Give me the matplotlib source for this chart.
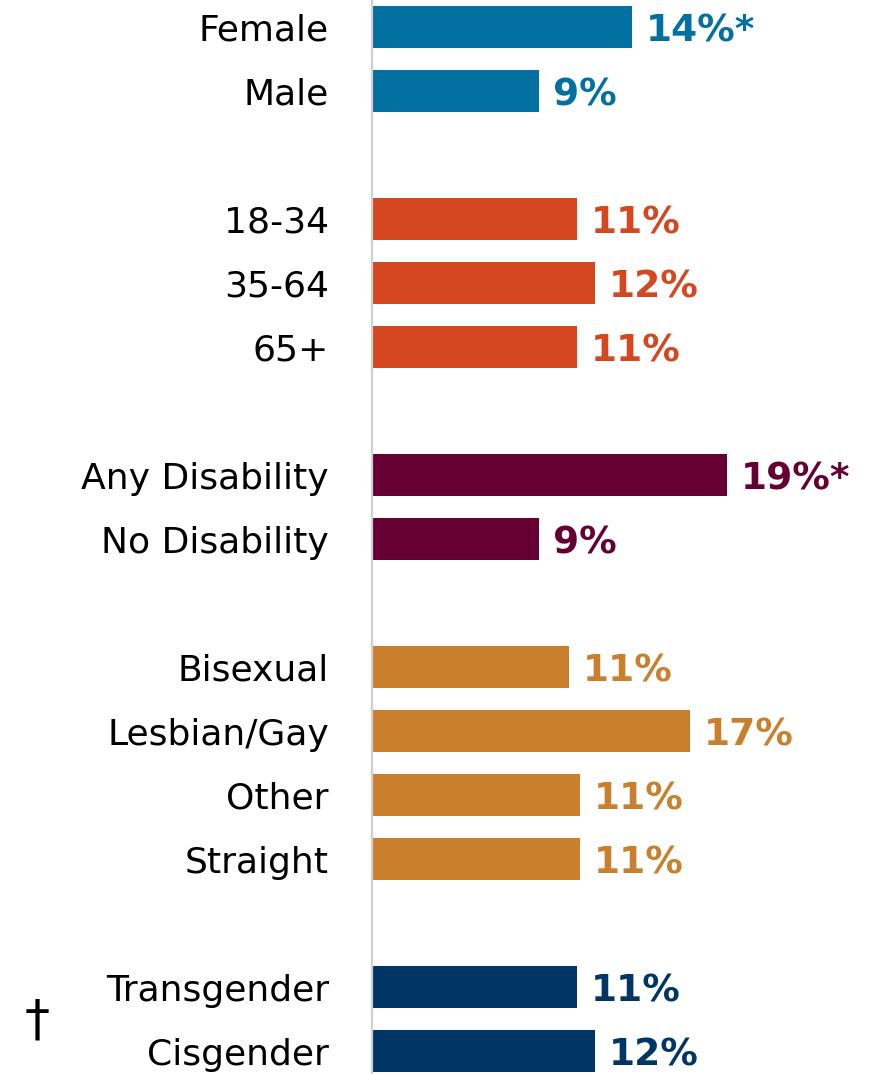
import matplotlib.pyplot as plt

# groups of categories, share of respondents (%)
gender_labels = ["Female", "Male"]
gender_values = [14.0, 9.0]
age_labels = ["18-34", "35-64", "65+"]
age_values = [11.0, 12.0, 11.0]
disability_labels = ["Any Disability", "No Disability"]
disability_values = [19.1, 9.0]
orientation_labels = ["Bisexual", "Lesbian/Gay", "Other", "Straight"]
orientation_values = [10.6, 17.1, 11.2, 11.2]
identity_labels = ["Transgender", "Cisgender"]
identity_values = [11.0, 12.0]
significant = ["Female", "Any Disability"]

groups = [
    (gender_labels, gender_values, "#0271A1"),
    (age_labels, age_values, "#D4471F"),
    (disability_labels, disability_values, "#660033"),
    (orientation_labels, orientation_values, "#C97F2C"),
    (identity_labels, identity_values, "#003566"),
]

plt.rcParams['font.family'] = 'DejaVu Sans'

fig = plt.figure(figsize=(8.74, 10.74), dpi=100)
ax = fig.add_axes([372 / 874, 0, 502 / 874, 1])

ticks, names = [], []
row = 0
for labels, values, color in groups:
    for lab, val in zip(labels, values):
        ax.barh(row, val, height=0.67, color=color)
        txt = f"{val:.0f}%" + ("*" if lab in significant else "")
        ax.annotate(txt, (val, row), xytext=(10, 0), textcoords="offset points",
                    ha="left", va="center_baseline", fontsize=27, fontweight="bold",
                    color=color)
        ticks.append(row)
        names.append(lab)
        row += 1
    row += 1

ax.set_xlim(0, 502 / 18.6)
ax.set_ylim((1074 - 27) / 64, -27 / 64)
ax.set_yticks(ticks)
ax.set_yticklabels(names, fontsize=26, va="center_baseline")
ax.tick_params(axis="y", length=0, pad=31)
ax.set_xticks([])
for side in ["top", "right", "bottom"]:
    ax.spines[side].set_visible(False)
ax.spines["left"].set_color("#D0D0D0")
ax.spines["left"].set_linewidth(1.6)
ax.patch.set_alpha(0)

fig.text(37 / 874, 1 - 1020 / 1074, "\u2020", fontsize=36, ha="center", va="center")

fig.savefig("out.png", dpi=100)
